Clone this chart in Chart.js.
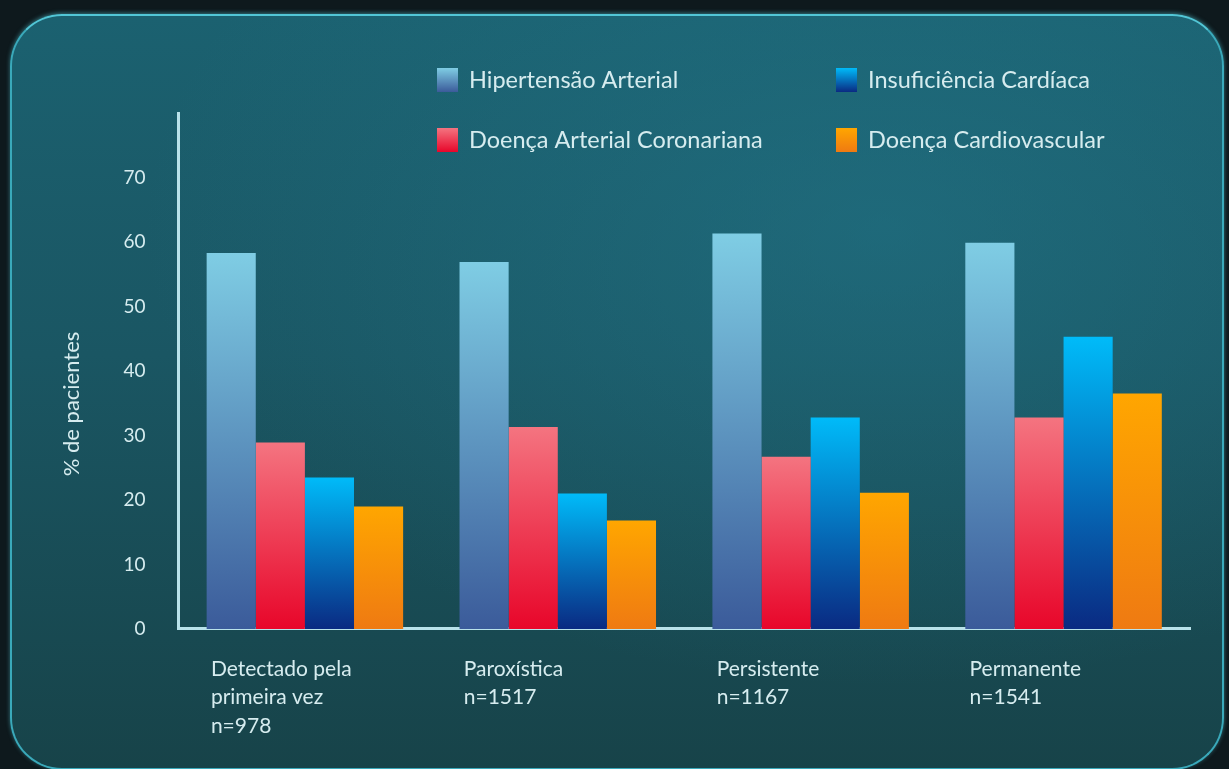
<!DOCTYPE html>
<html>
<head>
<meta charset="utf-8">
<script src="https://cdn.jsdelivr.net/npm/chart.js@4"></script>
<style>
  html, body { margin: 0; padding: 0; background: #0e191d; overflow: hidden; }
  #wrap { position: relative; width: 1229px; height: 769px; }
  #panel {
    position: absolute; left: 10px; top: 14px; width: 1214px; height: 756px;
    border-radius: 52px; box-sizing: border-box;
    border: 2px solid #3aa9ba; border-top-color: #52c6d6;
    box-shadow: 0 -1px 4px rgba(90, 210, 225, 0.5);
    background:
      radial-gradient(ellipse at 72% 28%, rgba(35, 120, 140, 0.5), rgba(0, 0, 0, 0) 60%),
      linear-gradient(#1b6170 0%, #1a5663 45%, #174349 100%);
  }
  #noiceCanvas { position: absolute; left: 0; top: 0; }
</style>
</head>
<body>
<div id="wrap">
  <div id="panel"></div>
  <canvas id="noiceCanvas" width="1229" height="769"></canvas>
</div>
<script>
const categories = [
  ['Detectado pela', 'primeira vez', 'n=978'],
  ['Paroxística', 'n=1517'],
  ['Persistente', 'n=1167'],
  ['Permanente', 'n=1541']
]
const seriesNames = ['Hipertensão Arterial', 'Doença Arterial Coronariana', 'Insuficiência Cardíaca', 'Doença Cardiovascular']
const hipertensao = [58.3, 56.9, 61.3, 59.9]
const coronariana = [28.9, 31.3, 26.7, 32.8]
const insuficiencia = [23.5, 21.0, 32.8, 45.3]
const cardiovascular = [19.0, 16.8, 21.1, 36.5]
const yTicks = [0, 10, 20, 30, 40, 50, 60, 70]

// top / bottom colours of each bar gradient
const colours = [
  ['#7fcde4', '#3b5b9a'],
  ['#f47480', '#e8062a'],
  ['#00bbf9', '#0a2a82'],
  ['#ffa600', '#ef7a12']
]
const textColour = '#d6ecef'
const font = 'Lato, "Open Sans", sans-serif'

function barGradient(c, top, bottom) {
  const chart = c.chart
  if (!chart.chartArea || !c.parsed) return bottom
  const y = chart.scales.y
  const g = chart.ctx.createLinearGradient(0, y.getPixelForValue(c.parsed.y), 0, y.getPixelForValue(0))
  g.addColorStop(0, top)
  g.addColorStop(1, bottom)
  return g
}

// 2x2 legend drawn above the plot
const gridLegend = {
  id: 'gridLegend',
  afterDraw(chart) {
    const ctx = chart.ctx
    const cols = [437, 836]
    const rows = [80, 140]
    const order = [0, 2, 1, 3]
    order.forEach((di, k) => {
      const ds = chart.data.datasets[di]
      const x = cols[k % 2]
      const y = rows[k < 2 ? 0 : 1]
      const g = ctx.createLinearGradient(0, y - 12, 0, y + 12)
      g.addColorStop(0, colours[di][0])
      g.addColorStop(1, colours[di][1])
      ctx.save()
      ctx.fillStyle = g
      ctx.fillRect(x, y - 12, 21, 24)
      ctx.fillStyle = textColour
      ctx.font = '23.5px ' + font
      ctx.textBaseline = 'middle'
      ctx.fillText(ds.label, x + 32, y)
      ctx.restore()
    })
  }
}

const ctx = document.getElementById('noiceCanvas')
const values = [hipertensao, coronariana, insuficiencia, cardiovascular]

const chart = new Chart(ctx, {
  type: 'bar',
  data: {
    labels: categories,
    datasets: seriesNames.map((name, i) => ({
      label: name,
      data: values[i],
      backgroundColor: c => barGradient(c, colours[i][0], colours[i][1]),
      borderWidth: 0,
      categoryPercentage: 0.777,
      barPercentage: 1
    }))
  },
  options: {
    responsive: false,
    animation: false,
    layout: { padding: { top: 113, right: 39, bottom: 3, left: 59 } },
    plugins: {
      legend: { display: false },
      tooltip: { enabled: false }
    },
    scales: {
      x: {
        grid: { display: false, drawTicks: false },
        border: { display: true, color: '#b9e2ea', width: 3 },
        ticks: {
          color: textColour,
          font: { family: font, size: 21, lineHeight: 1.35 },
          align: 'start',
          labelOffset: -94,
          padding: 26,
          maxRotation: 0
        }
      },
      y: {
        min: 0,
        max: 80,
        afterBuildTicks: scale => { scale.ticks = yTicks.map(v => ({ value: v })) },
        grid: { display: false, drawTicks: false },
        border: { display: true, color: '#b9e2ea', width: 3 },
        ticks: {
          color: textColour,
          font: { family: font, size: 19 },
          padding: 33
        },
        title: {
          display: true,
          // trailing em spaces push the visible text down, as in the original
          text: '% de pacientes\u2003\u2003\u2003\u2003',
          color: textColour,
          font: { family: font, size: 22 },
          padding: { top: 0, bottom: 5 }
        }
      }
    }
  },
  plugins: [gridLegend]
})
</script>
</body>
</html>
